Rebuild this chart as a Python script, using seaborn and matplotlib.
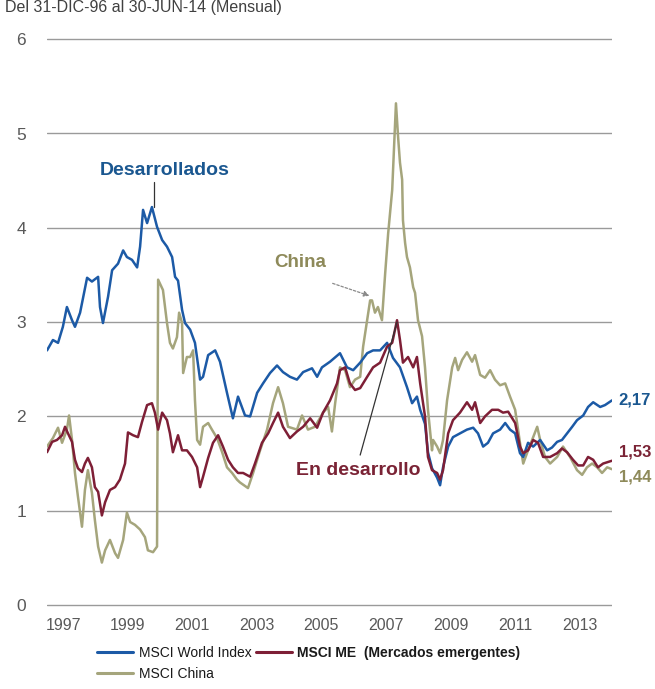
import matplotlib
matplotlib.use("Agg")
import matplotlib.pyplot as plt
import seaborn as sns
import pandas as pd
from matplotlib.lines import Line2D

# ---------------- data (month offsets from Dec-1996, ratio values) ----------------
world_months = [0, 2.2, 4.1, 5.9, 7.4, 9.3, 10.4, 12.3, 14.9, 16.7, 19.0, 19.7, 20.8, 22.7,
                24.2, 26.4, 28.3, 29.7, 31.6, 33.5, 34.6, 35.7, 37.2, 39.0, 40.9, 42.8,
                44.6, 46.5, 47.6, 48.7, 50.2, 51.3, 53.2, 55.0, 56.9, 58.0, 59.9, 62.5,
                64.3, 66.9, 69.1, 71.0, 73.6, 75.5, 78.1, 80.3, 82.9, 85.5, 87.7, 90.3,
                92.9, 95.2, 98.5, 100.4, 102.2, 105.2, 108.9, 111.5, 113.8, 116.4, 119.0,
                121.2, 123.8, 126.4, 128.6, 131.2, 133.8, 135.7, 137.5, 138.7, 140.5,
                141.6, 143.1, 145.0, 146.1, 147.2, 149.1, 150.9, 153.5, 156.1, 158.4,
                160.2, 162.1, 163.9, 165.8, 168.4, 170.3, 172.1, 174.0, 175.8, 177.0,
                178.8, 180.7, 183.3, 185.9, 187.7, 189.6, 191.4, 193.3, 195.2, 197.0,
                199.3, 201.1, 203.0, 205.6, 207.4, 210]
world_vals = [2.70, 2.81, 2.78, 2.95, 3.16, 3.02, 2.95, 3.10, 3.47, 3.43, 3.48, 3.16, 2.99, 3.27,
              3.55, 3.62, 3.76, 3.69, 3.66, 3.58, 3.80, 4.19, 4.05, 4.22, 4.01, 3.87,
              3.80, 3.69, 3.48, 3.44, 3.13, 2.99, 2.92, 2.78, 2.39, 2.42, 2.65, 2.70,
              2.58, 2.25, 1.98, 2.21, 2.01, 2.00, 2.25, 2.35, 2.46, 2.54, 2.47, 2.42,
              2.39, 2.47, 2.51, 2.42, 2.52, 2.58, 2.67, 2.52, 2.49, 2.57, 2.67,
              2.70, 2.70, 2.78, 2.62, 2.52, 2.31, 2.14, 2.21, 2.07, 1.92,
              1.62, 1.45, 1.35, 1.27, 1.46, 1.68, 1.78, 1.82, 1.86, 1.88,
              1.82, 1.68, 1.72, 1.82, 1.86, 1.93, 1.86, 1.82, 1.61, 1.57,
              1.72, 1.68, 1.75, 1.64, 1.67, 1.73, 1.75, 1.82, 1.89, 1.96,
              2.01, 2.10, 2.15, 2.10, 2.12, 2.17]

em_months = [0, 1.9, 3.7, 5.6, 6.7, 7.8, 9.3, 10.4, 11.5, 13.0, 14.1, 15.2, 16.7, 17.8, 19.0,
             20.4, 21.6, 23.4, 25.3, 27.1, 29.0, 30.1, 32.0, 33.8, 35.3, 37.2, 39.0, 40.1,
             41.3, 42.8, 44.6, 45.7, 46.8, 48.7, 50.2, 52.0, 53.9, 55.8, 56.9, 58.0, 59.9,
             61.7, 63.6, 65.4, 67.3, 69.1, 71.0, 72.9, 75.5, 77.3, 79.9, 82.2, 84.0, 85.9,
             87.7, 90.3, 92.9, 95.2, 97.8, 100.4, 102.6, 105.2, 107.8, 108.9, 110.8, 112.6,
             114.5, 116.4, 119.0, 121.2, 123.8, 126.4, 128.3, 130.1, 131.2, 132.3, 134.2,
             136.1, 137.5, 138.7, 140.5, 141.6, 143.1, 145.0, 146.1, 147.2, 149.1, 150.9,
             153.5, 156.1, 158.0, 159.1, 161.0, 162.8, 165.4, 167.7, 169.5, 171.4, 174.0,
             175.8, 177.0, 178.8, 180.7, 182.5, 184.4, 187.0, 189.6, 191.4, 193.3, 195.5,
             197.4, 199.3, 201.1, 203.0, 204.8, 206.7, 210]
em_vals = [1.62, 1.73, 1.75, 1.80, 1.89, 1.82, 1.73, 1.54, 1.45, 1.41, 1.50, 1.56, 1.46, 1.25, 1.20,
           0.95, 1.09, 1.22, 1.25, 1.33, 1.50, 1.83, 1.80, 1.78, 1.94, 2.12, 2.14, 2.04,
           1.86, 2.04, 1.96, 1.82, 1.62, 1.80, 1.64, 1.64, 1.57, 1.46, 1.25, 1.36, 1.56,
           1.72, 1.80, 1.68, 1.54, 1.46, 1.40, 1.40, 1.36, 1.50, 1.72, 1.82, 1.93, 2.04,
           1.89, 1.77, 1.84, 1.89, 1.98, 1.88, 2.04, 2.17, 2.35, 2.49, 2.52, 2.35,
           2.28, 2.30, 2.42, 2.52, 2.57, 2.74, 2.78, 3.02, 2.81, 2.57, 2.63,
           2.52, 2.63, 2.35, 2.00, 1.57, 1.43, 1.40, 1.33, 1.43, 1.82, 1.96,
           2.04, 2.15, 2.07, 2.15, 1.93, 2.00, 2.07, 2.07, 2.04, 2.05, 1.93,
           1.68, 1.61, 1.64, 1.75, 1.72, 1.57, 1.57, 1.61, 1.66, 1.62, 1.54,
           1.48, 1.48, 1.57, 1.54, 1.46, 1.50, 1.53]

china_months = [0, 2.2, 4.1, 5.6, 7.4, 8.2, 9.3, 10.4, 11.5, 13.0, 14.1, 15.2, 16.7, 17.8, 19.0,
                20.4, 21.6, 23.4, 25.3, 26.4, 28.3, 29.7, 30.9, 32.7, 34.6, 36.4, 37.5, 39.4,
                40.9, 41.3, 43.1, 44.6, 45.7, 46.8, 48.3, 49.1, 50.2, 50.6, 52.0, 53.2, 54.3,
                55.0, 55.8, 56.9, 58.0, 59.9, 61.3, 63.2, 65.1, 66.9, 68.8, 70.6, 71.7, 74.7,
                76.6, 79.2, 81.8, 84.0, 85.9, 87.7, 89.6, 92.9, 94.8, 97.0, 99.6, 102.6, 104.5,
                105.9, 107.1, 108.9, 110.8, 112.6, 114.5, 116.4, 117.5, 119.0, 120.1, 120.8,
                121.9, 123.0, 124.5, 125.7, 126.8, 128.3, 129.0, 129.7, 130.5, 131.2, 132.0,
                132.3, 133.1, 133.8, 134.9, 136.1, 136.8, 137.9, 139.4, 140.5, 141.6, 143.1,
                143.5, 145.0, 146.1, 147.2, 148.7, 150.6, 151.7, 152.8, 154.3, 156.1, 158.0,
                159.1, 161.0, 162.8, 164.7, 166.5, 168.4, 170.3, 172.1, 174.0, 175.8, 177.0,
                178.8, 180.7, 182.2, 183.3, 185.1, 187.0, 189.6, 191.8, 194.4, 197.0, 198.9,
                200.7, 202.6, 204.5, 206.3, 208.2, 210]
china_vals = [1.68, 1.77, 1.88, 1.72, 1.86, 2.01, 1.75, 1.40, 1.15, 0.83, 1.22, 1.43, 1.19, 0.90, 0.62,
              0.45, 0.58, 0.69, 0.55, 0.50, 0.69, 0.98, 0.88, 0.85, 0.80, 0.72, 0.58, 0.56,
              0.62, 3.45, 3.34, 2.99, 2.78, 2.72, 2.84, 3.10, 2.99, 2.46, 2.63, 2.63, 2.70,
              2.17, 1.75, 1.70, 1.89, 1.93, 1.86, 1.77, 1.62, 1.46, 1.40, 1.33, 1.30, 1.24,
              1.40, 1.64, 1.86, 2.14, 2.31, 2.14, 1.89, 1.86, 2.01, 1.86, 1.89, 2.04, 2.10,
              1.84, 2.14, 2.52, 2.49, 2.31, 2.39, 2.42, 2.74, 3.02, 3.23, 3.23,
              3.10, 3.16, 3.02, 3.52, 3.94, 4.40, 4.86, 5.32, 4.96, 4.69, 4.51,
              4.08, 3.84, 3.69, 3.58, 3.37, 3.31, 3.02, 2.85, 2.52, 2.07, 1.64,
              1.75, 1.68, 1.61, 1.75, 2.17, 2.52, 2.62, 2.49, 2.60, 2.68, 2.58,
              2.65, 2.44, 2.41, 2.49, 2.39, 2.33, 2.35, 2.21, 2.07, 1.72, 1.50,
              1.64, 1.78, 1.89, 1.75, 1.57, 1.50, 1.57, 1.68, 1.57, 1.43, 1.38,
              1.46, 1.50, 1.46, 1.40, 1.46, 1.44]

series_names = ["MSCI World Index", "MSCI ME  (Mercados emergentes)", "MSCI China"]
year_labels = ["1997", "1999", "2001", "2003", "2005", "2007", "2009", "2011", "2013"]
y_ticks = [0, 1, 2, 3, 4, 5, 6]
end_labels = ["2,17", "1,53", "1,44"]

# ---------------- styling ----------------
C_WORLD = "#1C5AA6"
C_EM = "#7E1F36"
C_CHINA = "#A5A57C"
T_WORLD = "#1A5790"
T_EM = "#7A2335"
T_CHINA = "#8E8A5A"
GRID = "#9A9A9A"
FONTS = ["Liberation Sans", "DejaVu Sans"]

sns.set_theme(style="white")
plt.rcParams["font.family"] = FONTS

df = pd.concat([
    pd.DataFrame({"m": world_months, "v": world_vals, "s": series_names[0]}),
    pd.DataFrame({"m": em_months, "v": em_vals, "s": series_names[1]}),
    pd.DataFrame({"m": china_months, "v": china_vals, "s": series_names[2]}),
], ignore_index=True)

W, H = 655, 689
fig = plt.figure(figsize=(W / 100, H / 100), dpi=100)
ymin, ymax = -0.05, 6.05
ppu = 94.3
y0px = 605
ax_top = y0px - ymax * ppu
ax_bot = y0px - ymin * ppu
ax = fig.add_axes([47 / W, 1 - ax_bot / H, (612 - 47) / W, (ax_bot - ax_top) / H])

palette = {series_names[0]: C_WORLD, series_names[1]: C_EM, series_names[2]: C_CHINA}
sns.lineplot(data=df, x="m", y="v", hue="s", hue_order=[series_names[2], series_names[0], series_names[1]],
             palette=palette, estimator=None, sort=False, linewidth=1.8, legend=False, ax=ax)

ax.set_xlim(0, 210)
ax.set_ylim(ymin, ymax)
ax.set_yticks(y_ticks)
ax.set_yticklabels([str(t) for t in y_ticks])
ax.set_xticks([(int(y) - 1997) * 12 + 6 for y in year_labels])
ax.set_xticklabels(year_labels)
ax.set_xlabel("")
ax.set_ylabel("")
for sp in ax.spines.values():
    sp.set_visible(False)
ax.grid(axis="y", color=GRID, linewidth=1.0)
ax.grid(axis="x", visible=False)
ax.set_axisbelow(True)
ax.tick_params(axis="y", length=0, pad=15, labelsize=12.5, labelcolor="#595959")
ax.tick_params(axis="x", length=0, pad=6, labelsize=11.5, labelcolor="#595959")

# annotations
ax.text(43.9, 4.61, "Desarrollados", color=T_WORLD, fontsize=14, fontweight="bold",
        ha="center", va="center")
ax.plot([39.8, 39.8], [4.49, 4.22], color="#333333", linewidth=0.9)
ax.text(94, 3.63, "China", color=T_CHINA, fontsize=13.5, fontweight="bold",
        ha="center", va="center")
ax.annotate("", xy=(120.8, 3.27), xytext=(105.2, 3.42),
            arrowprops=dict(arrowstyle="-|>", color="#8A8A8A", linestyle=(0, (2, 1.5)),
                            linewidth=0.9, mutation_scale=8))
ax.text(115.6, 1.43, "En desarrollo", color=T_EM, fontsize=14, fontweight="bold",
        ha="center", va="center")
ax.plot([116.4, 130.1], [1.59, 3.0], color="#333333", linewidth=0.9)

ax.text(212.5, 2.17, end_labels[0], color=T_WORLD, fontsize=12, fontweight="bold",
        ha="left", va="center", clip_on=False)
ax.text(212.5, 1.62, end_labels[1], color=T_EM, fontsize=12, fontweight="bold",
        ha="left", va="center", clip_on=False)
ax.text(212.5, 1.36, end_labels[2], color=T_CHINA, fontsize=12, fontweight="bold",
        ha="left", va="center", clip_on=False)

# title (only partly visible at the top in the reference)
fig.text(5 / W, 1 - 12 / H, "Del 31-DIC-96 al 30-JUN-14 (Mensual)", fontsize=11.5,
         color="#404040", ha="left", va="baseline")

# legend
handles = [Line2D([0], [0], color=C_WORLD, lw=2.2),
           Line2D([0], [0], color=C_CHINA, lw=2.2),
           Line2D([0], [0], color=C_EM, lw=2.2)]
labels = [series_names[0], series_names[2], series_names[1]]
leg = fig.legend(handles, labels, ncol=2, loc="upper left", bbox_to_anchor=(97 / W, 1 - 646 / H),
                 frameon=False, fontsize=10, handlelength=2.6, handletextpad=0.4,
                 columnspacing=0.3, labelspacing=0.5, borderaxespad=0, borderpad=0)
for t in leg.get_texts():
    t.set_color("#1A1A1A")
    if "ME" in t.get_text():
        t.set_fontweight("bold")

fig.savefig("out.png", dpi=100)
